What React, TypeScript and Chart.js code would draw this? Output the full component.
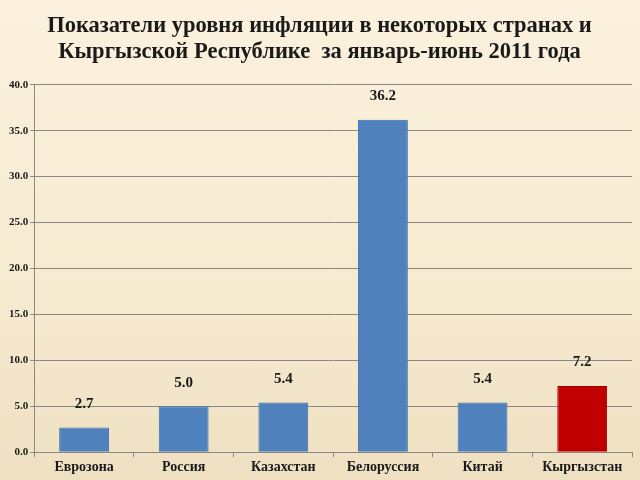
import React, { useEffect, useRef } from "react";
import { Chart, registerables } from "chart.js";

Chart.register(...registerables);

const titleLines = [
  "Показатели уровня инфляции в некоторых странах и",
  "Кыргызской Республике  за январь-июнь 2011 года",
];
const categories = ["Еврозона", "Россия", "Казахстан", "Белоруссия", "Китай", "Кыргызстан"];
const values = [2.7, 5.0, 5.4, 36.2, 5.4, 7.2];
const barColors = ["#4f81bd", "#4f81bd", "#4f81bd", "#4f81bd", "#4f81bd", "#c00000"];
const borderColors = ["#3f6fa8", "#3f6fa8", "#3f6fa8", "#3f6fa8", "#3f6fa8", "#a00000"];

const SERIF = "'Liberation Serif', 'DejaVu Serif', serif";

const labelPlugin = {
  id: "barLabels",
  afterDatasetsDraw(chart: any) {
    const { ctx } = chart;
    const meta = chart.getDatasetMeta(0);
    ctx.save();
    ctx.font = `bold 15px ${SERIF}`;
    ctx.fillStyle = "#1a1a1a";
    ctx.textAlign = "center";
    ctx.textBaseline = "bottom";
    meta.data.forEach((bar: any, i: number) => {
      ctx.fillText(values[i].toFixed(1), bar.x, bar.y - 16);
    });
    ctx.restore();
  },
};

export default function App() {
  const ref = useRef<HTMLCanvasElement>(null);
  useEffect(() => {
    document.body.style.margin = "0";
    const chart = new Chart(ref.current!, {
      type: "bar",
      data: {
        labels: categories,
        datasets: [
          {
            data: values,
            backgroundColor: barColors,
            borderColor: borderColors,
            borderWidth: 1,
            barPercentage: 0.5,
            categoryPercentage: 1,
          },
        ],
      },
      plugins: [labelPlugin],
      options: {
        animation: false,
        responsive: false,
        maintainAspectRatio: false,
        layout: { padding: { left: 7, right: 8, bottom: 2, top: 0 } },
        plugins: {
          legend: { display: false },
          tooltip: { enabled: false },
          title: {
            display: true,
            text: titleLines,
            color: "#1a1a1a",
            font: { family: SERIF, size: 22.5, weight: "bold", lineHeight: 1.15 },
            padding: { top: 13, bottom: 20 },
          },
        },
        scales: {
          x: {
            grid: {
              drawOnChartArea: false,
              drawTicks: true,
              tickLength: 5,
              color: "#8a8880",
            },
            border: { color: "#8a8880", width: 1 },
            ticks: {
              color: "#1a1a1a",
              font: { family: SERIF, size: 14, weight: "bold" },
              padding: 2,
            },
          },
          y: {
            min: 0,
            max: 40,
            ticks: {
              stepSize: 5,
              color: "#1a1a1a",
              font: { family: SERIF, size: 11, weight: "bold" },
              padding: 2,
              callback: (v: any) => Number(v).toFixed(1),
            },
            grid: { color: "#8a8880", lineWidth: 1, tickLength: 4 },
            border: { color: "#8a8880", width: 1 },
          },
        },
      },
    });
    return () => chart.destroy();
  }, []);
  return (
    <div
      style={{
        position: "fixed",
        left: 0,
        top: 0,
        width: 640,
        height: 480,
        background: "linear-gradient(to bottom, #fbf1de 0%, #f6ead0 60%, #efe0c2 100%)",
      }}
    >
      <canvas ref={ref} width={640} height={480} />
    </div>
  );
}
